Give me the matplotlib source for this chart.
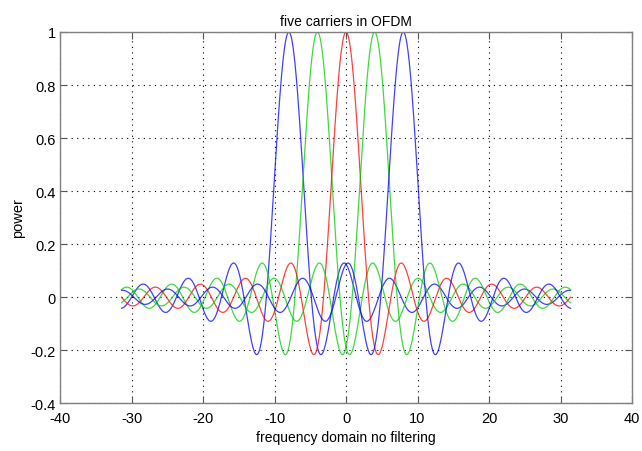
import numpy as np
import matplotlib
matplotlib.use("Agg")
import matplotlib.pyplot as plt

plt.rcParams['font.family'] = ['Liberation Sans', 'DejaVu Sans']
plt.rcParams['axes.unicode_minus'] = False

# carriers: centre frequency and colour
centres = [-8, -4, 0, 4, 8]
colours = ['#0000ff', '#00cc00', '#ff0000', '#00cc00', '#0000ff']
# frequency span of the curves (about -10*pi .. 10*pi)
f_span = [-31.4, 31.4]

x_ticks = [-40, -30, -20, -10, 0, 10, 20, 30, 40]
y_ticks = [-0.4, -0.2, 0, 0.2, 0.4, 0.6, 0.8, 1]
y_labels = ['-0.4', '-0.2', '0', '0.2', '0.4', '0.6', '0.8', '1']

f = np.linspace(f_span[0], f_span[1], 700)

fig = plt.figure(figsize=(6.42, 4.52), dpi=100)
ax = fig.add_axes([0.0935, 0.106, 0.891, 0.821])

for c, col in zip(centres, colours):
    # each carrier is a sin(u)/u pulse
    ax.plot(f, np.sinc((f - c) / np.pi), color=col, lw=0.9, alpha=0.75)

ax.set_xlim(-40, 40)
ax.set_ylim(-0.4, 1)
ax.set_xticks(x_ticks)
ax.set_xticklabels([str(t) for t in x_ticks])
ax.set_yticks(y_ticks)
ax.set_yticklabels(y_labels)
ax.grid(True, color='black', linestyle=(0, (1, 4)), linewidth=0.8)
ax.tick_params(direction='in', length=5, width=0.8, color='#555555',
               labelsize=10.5, top=True, right=True)
ax.tick_params(axis='x', pad=6)
ax.tick_params(axis='y', pad=3)
for s in ax.spines.values():
    s.set_color('#808080')
    s.set_linewidth(1.0)

ax.set_title('five carriers in OFDM', fontsize=10, pad=5)
ax.set_xlabel('frequency domain no filtering', fontsize=10, labelpad=3)
ax.set_ylabel('power', fontsize=10.5, labelpad=4)

fig.savefig('out.png', dpi=100)
